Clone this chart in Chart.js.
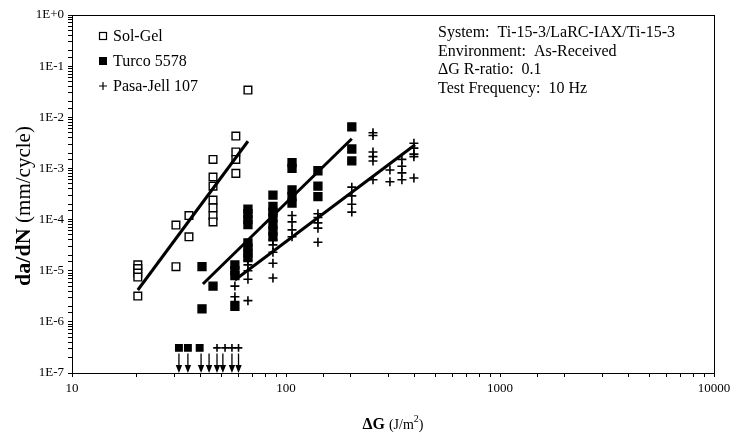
<!DOCTYPE html>
<html>
<head>
<meta charset="utf-8">
<script src="https://cdn.jsdelivr.net/npm/chart.js@4.4.0/dist/chart.umd.min.js"></script>
<style>
  html, body { margin: 0; padding: 0; background: #fff; }
  #wrap { position: relative; width: 736px; height: 444px; }
</style>
</head>
<body>
<div id="wrap"><canvas id="chart" width="736" height="444"></canvas></div>
<script>
const SERIF = '"Liberation Serif", "Times New Roman", serif';

// delta G (J/m^2) and da/dN (mm/cycle)
const solGelDG = [20.3, 20.3, 20.3, 20.3, 20.3, 30.6, 30.6, 35.2, 35.2,
  45.6, 45.6, 45.6, 45.6, 45.6, 45.6, 45.6, 58.3, 58.3, 58.3, 58.3, 66.4];
const solGelRate = [1.3e-5, 1.1e-5, 9e-6, 7.5e-6, 3.2e-6, 7.8e-5, 1.2e-5, 1.2e-4, 4.6e-5,
  1.5e-3, 6.8e-4, 4.5e-4, 2.4e-4, 1.7e-4, 1.2e-4, 9e-5, 4.3e-3, 2.1e-3, 1.5e-3, 8e-4, 3.4e-2];

const turcoDG = [40.5, 40.5, 45.6, 57.7, 57.7, 57.7, 57.7,
  66.4, 66.4, 66.4, 66.4, 66.4, 66.4, 66.4, 66.4,
  86.9, 86.9, 86.9, 86.9, 86.9, 86.9, 86.9,
  106.7, 106.7, 106.7, 106.7, 106.7, 141, 141, 141, 203, 203, 203];
const turcoRate = [1.2e-5, 1.8e-6, 5.0e-6, 1.3e-5, 1.0e-5, 8e-6, 2.0e-6,
  1.6e-4, 1.3e-4, 1.0e-4, 8e-5, 3.5e-5, 2.8e-5, 2.2e-5, 1.8e-5,
  3.0e-4, 1.8e-4, 1.4e-4, 1.1e-4, 8e-5, 6e-5, 4.6e-5,
  1.3e-3, 1.0e-3, 3.8e-4, 2.8e-4, 2.1e-4, 9e-4, 4.5e-4, 2.8e-4, 6.5e-3, 2.4e-3, 1.4e-3];

const pasaDG = [57.7, 57.7, 57.7, 66.4, 66.4, 66.4, 66.4, 66.4,
  86.9, 86.9, 86.9, 86.9, 86.9, 106.7, 106.7, 106.7, 106.7,
  141, 141, 141, 141, 141, 203, 203, 203, 203,
  255, 255, 255, 255, 255, 255, 306, 306, 348, 348, 348, 348,
  396, 396, 396, 396, 396];
const pasaRate = [5e-6, 3.1e-6, 2.5e-6, 1.6e-5, 1.3e-5, 1.0e-5, 6.8e-6, 2.6e-6,
  4.0e-5, 3.2e-5, 2.3e-5, 1.4e-5, 7.2e-6, 1.2e-4, 9e-5, 6.3e-5, 4.6e-5,
  1.3e-4, 1.1e-4, 8.6e-5, 6.8e-5, 3.6e-5, 4.3e-4, 2.9e-4, 2.0e-4, 1.4e-4,
  5e-3, 4.4e-3, 2.1e-3, 1.7e-3, 1.4e-3, 6e-4, 9.3e-4, 5.5e-4, 1.5e-3, 1.1e-3, 8.2e-4, 6e-4,
  3.1e-3, 2.5e-3, 1.9e-3, 1.7e-3, 6.5e-4];

// run-outs (no growth) shown above arrows at the bottom
const turcoRunoutDG = [31.6, 34.8, 39.5];
const pasaRunoutDG = [47.6, 51.9, 55.9, 60];
const runoutRate = 3.1e-7;
const arrowDG = [31.6, 34.8, 40.1, 43.7, 47.6, 50.7, 55.9, 60];
const arrowTopRate = 2.4e-7;

// power-law fit end points
const solGelFitDG = [20.3, 66.4];
const solGelFitRate = [4.2e-6, 3.4e-3];
const turcoFitDG = [40.9, 203];
const turcoFitRate = [5.5e-6, 3.8e-3];
const pasaFitDG = [57.7, 401];
const pasaFitRate = [6.6e-6, 2.9e-3];

const legendItems = ["Sol-Gel", "Turco 5578", "Pasa-Jell 107"];
const infoLines = [
  "System:  Ti-15-3/LaRC-IAX/Ti-15-3",
  "Environment:  As-Received",
  "\u0394G R-ratio:  0.1",
  "Test Frequency:  10 Hz",
];

const pts = (xs, ys) => xs.map((x, i) => ({ x, y: Array.isArray(ys) ? ys[i] : ys }));
const isDecade = (v) => Math.abs(Math.log10(v) - Math.round(Math.log10(v))) < 1e-9;

function scatterSet(label, data, style, fill, radius) {
  return {
    type: "scatter", label, data,
    pointStyle: style, pointRadius: radius, pointHoverRadius: radius,
    pointBackgroundColor: fill ? "#000" : "#fff",
    pointBorderColor: "#000", pointBorderWidth: style === "cross" ? 1.6 : 1.4,
  };
}

function fitSet(label, xs, ys) {
  return {
    type: "line", label, data: pts(xs, ys),
    borderColor: "#000", borderWidth: 3, pointRadius: 0, fill: false, tension: 0,
  };
}

const decor = {
  id: "decor",
  afterDraw(chart) {
    const { ctx, chartArea: a, scales } = chart;
    const xs = scales.x, ys = scales.y;
    ctx.save();

    // plot frame
    ctx.strokeStyle = "#000";
    ctx.lineWidth = 1;
    ctx.strokeRect(a.left + 0.5, a.top + 0.5, a.right - a.left, a.bottom - a.top);

    // run-out arrows
    ctx.fillStyle = "#000";
    ctx.lineWidth = 1.3;
    for (const dg of arrowDG) {
      const x = xs.getPixelForValue(dg);
      const y0 = ys.getPixelForValue(arrowTopRate);
      const y1 = ys.getPixelForValue(1e-7);
      ctx.beginPath();
      ctx.moveTo(x, y0);
      ctx.lineTo(x, y1 - 6);
      ctx.stroke();
      ctx.beginPath();
      ctx.moveTo(x - 3.2, y1 - 8);
      ctx.lineTo(x + 3.2, y1 - 8);
      ctx.lineTo(x, y1);
      ctx.closePath();
      ctx.fill();
    }

    // legend, inside the plot
    ctx.font = "16px " + SERIF;
    ctx.textBaseline = "middle";
    ctx.textAlign = "left";
    const lx = 103, ly = 36, lstep = 25;
    legendItems.forEach((label, i) => {
      const y = ly + i * lstep;
      ctx.lineWidth = 1.2;
      if (i === 0) ctx.strokeRect(lx - 3.5, y - 3.5, 7, 7);
      if (i === 1) ctx.fillRect(lx - 4, y - 4, 8, 8);
      if (i === 2) {
        ctx.beginPath();
        ctx.moveTo(lx - 4, y); ctx.lineTo(lx + 4, y);
        ctx.moveTo(lx, y - 4); ctx.lineTo(lx, y + 4);
        ctx.stroke();
      }
      ctx.fillText(label, lx + 10, y + 1);
    });

    // test conditions
    ctx.font = "16px " + SERIF;
    infoLines.forEach((t, i) => ctx.fillText(t, 438, 33 + i * 18.6));

    // y title
    ctx.save();
    ctx.translate(24, (a.top + a.bottom) / 2 + 12);
    ctx.rotate(-Math.PI / 2);
    ctx.textAlign = "left";
    const f1 = "bold 22px " + SERIF, f2 = "21px " + SERIF;
    ctx.font = f1;
    const p1 = "da/dN ";
    const w1 = ctx.measureText(p1).width;
    ctx.font = f2;
    const p2 = "(mm/cycle)";
    const w2 = ctx.measureText(p2).width;
    const sx = -(w1 + w2) / 2;
    ctx.font = f1;
    ctx.fillText(p1, sx, 0);
    ctx.font = f2;
    ctx.fillText(p2, sx + w1, 0);
    ctx.restore();

    // x title
    const ty = 425;
    const parts = [
      ["bold 16px " + SERIF, "\u0394G ", 0],
      ["14px " + SERIF, "(J/m", 0],
      ["10px " + SERIF, "2", -6],
      ["14px " + SERIF, ")", 0],
    ];
    let total = 0;
    for (const [f, s] of parts) { ctx.font = f; total += ctx.measureText(s).width; }
    let cx = (a.left + a.right) / 2 - total / 2;
    for (const [f, s, dy] of parts) {
      ctx.font = f;
      ctx.fillText(s, cx, ty + dy);
      cx += ctx.measureText(s).width;
    }
    ctx.restore();
  },
};

new Chart(document.getElementById("chart"), {
  type: "scatter",
  data: {
    datasets: [
      fitSet("Sol-Gel fit", solGelFitDG, solGelFitRate),
      fitSet("Turco fit", turcoFitDG, turcoFitRate),
      fitSet("Pasa-Jell fit", pasaFitDG, pasaFitRate),
      scatterSet("Sol-Gel", pts(solGelDG, solGelRate), "rect", false, 5.4),
      scatterSet("Turco 5578", pts(turcoDG, turcoRate), "rect", true, 5.6),
      scatterSet("Pasa-Jell 107", pts(pasaDG, pasaRate), "cross", false, 4.5),
      scatterSet("Turco run-out", pts(turcoRunoutDG, runoutRate), "rect", true, 4.6),
      scatterSet("Pasa-Jell run-out", pts(pasaRunoutDG, runoutRate), "cross", false, 3.8),
    ],
  },
  options: {
    responsive: false,
    animation: false,
    events: [],
    layout: { padding: { top: 15, right: 22, left: 0, bottom: 0 } },
    plugins: { legend: { display: false }, tooltip: { enabled: false } },
    scales: {
      x: {
        type: "logarithmic", min: 10, max: 10000,
        afterFit: (s) => { s.height = 71; },
        border: { display: true, color: "#000", width: 1 },
        grid: { display: true, drawOnChartArea: false, drawTicks: true, tickLength: 4, color: "#000" },
        ticks: {
          autoSkip: false, maxRotation: 0, padding: 4, color: "#000",
          font: { family: SERIF, size: 13 },
          callback: (v) => (isDecade(v) ? String(Math.round(v)) : ""),
        },
      },
      y: {
        type: "logarithmic", min: 1e-7, max: 1,
        afterFit: (s) => { s.width = 72; },
        border: { display: true, color: "#000", width: 1 },
        grid: { display: true, drawOnChartArea: false, drawTicks: true, tickLength: 4, color: "#000" },
        ticks: {
          autoSkip: false, padding: 4, color: "#000",
          font: { family: SERIF, size: 13 },
          callback: (v) => {
            if (!isDecade(v)) return "";
            const e = Math.round(Math.log10(v));
            return "1E" + (e >= 0 ? "+" + e : e);
          },
        },
      },
    },
  },
  plugins: [decor],
});
</script>
</body>
</html>
